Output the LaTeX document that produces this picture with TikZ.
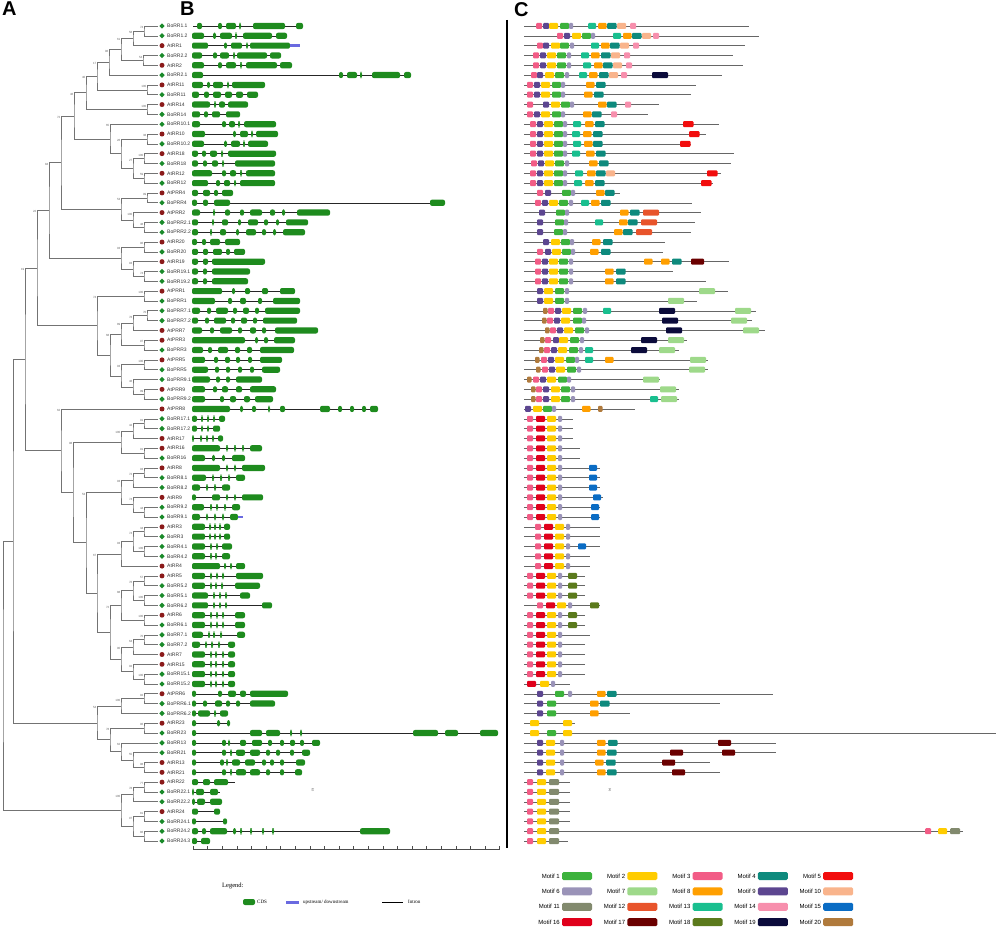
\documentclass[tikz,border=0pt]{standalone}
\usepackage{fontspec}
\setmainfont{Liberation Sans}
\newfontfamily\legendfont{Liberation Serif}
\usetikzlibrary{calc,shapes.geometric}

\definecolor{atred}{HTML}{8B1A1A}
\definecolor{bogreen}{HTML}{1A8A2A}
\definecolor{cdsgreen}{HTML}{1E8B1E}
\definecolor{utrblue}{HTML}{6A6AE0}
\definecolor{m1}{HTML}{3CB23C}
\definecolor{m2}{HTML}{FFCC00}
\definecolor{m3}{HTML}{F25C86}
\definecolor{m4}{HTML}{0E8A7D}
\definecolor{m5}{HTML}{F20D0D}
\definecolor{m6}{HTML}{9A93B8}
\definecolor{m7}{HTML}{9ED98A}
\definecolor{m8}{HTML}{FF9F00}
\definecolor{m9}{HTML}{5C4690}
\definecolor{m10}{HTML}{F9B48C}
\definecolor{m11}{HTML}{828A6E}
\definecolor{m12}{HTML}{E8542B}
\definecolor{m13}{HTML}{19BF8F}
\definecolor{m14}{HTML}{F78FAD}
\definecolor{m15}{HTML}{0A6CC4}
\definecolor{m16}{HTML}{E0001B}
\definecolor{m17}{HTML}{6B0000}
\definecolor{m18}{HTML}{5B7A1C}
\definecolor{m19}{HTML}{0B0B3B}
\definecolor{m20}{HTML}{B07A3C}

% y of a row
\newcommand{\ry}[1]{{26+(#1-1)*9.82}}
% inner node: name, x, upper child, lower child, bootstrap
\newcommand{\clade}[5]{%
  \coordinate (tmp) at ($(#3)!0.5!(#4)$);
  \coordinate (#1) at (perpendicular cs: horizontal line through={(tmp)}, vertical line through={(#2,0)});
  \draw[branch] (#3) -| (#1) |- (#4);
  \node[boot] (b#1) at (#1 |- #3) {#5};
}

\begin{document}
\begin{tikzpicture}[x=1pt,y=-1pt,
   branch/.style={draw=black!55, line width=0.6pt},
   boot/.style={font=\fontsize{3}{3}\selectfont, text=black!60, inner sep=0.4pt, anchor=north east},
   genelabel/.style={font=\fontsize{5}{6}\selectfont, text=black!80, anchor=west, inner sep=0pt},
   marka/.style={circle, fill=atred, minimum size=5pt, inner sep=0pt},
   markb/.style={diamond, fill=bogreen, minimum size=5.5pt, inner sep=0pt},
   intron/.style={draw=black!85, line width=0.5pt},
   exon/.style={fill=cdsgreen, rounded corners=2pt},
   mline/.style={draw=black!60, line width=0.5pt},
   motif/.style={rounded corners=1pt},
   panel/.style={font=\fontsize{20}{20}\selectfont\bfseries, anchor=north west, inner sep=0pt}]

\useasboundingbox (0,0) rectangle (996,928);

\node[panel] (pa) at (2,2) {A};
\node[panel] (pb) at (180,2) {B};
\node[panel] (pc) at (514,2) {C};

% tips
\foreach \r/\g/\sp in {1/BoRR1.1/b,2/BoRR1.2/b,3/AtRR1/a,4/BoRR2.2/b,5/AtRR2/a,6/BoRR2.1/b,7/AtRR11/a,8/BoRR11/b,9/AtRR14/a,10/BoRR14/b,
  11/BoRR10.1/b,12/AtRR10/a,13/BoRR10.2/b,14/AtRR18/a,15/BoRR18/b,16/AtRR12/a,17/BoRR12/b,18/AtPRR4/a,19/BoPRR4/b,20/AtPRR2/a,
  21/BoPRR2.1/b,22/BoPRR2.2/b,23/AtRR20/a,24/BoRR20/b,25/AtRR19/a,26/BoRR19.1/b,27/BoRR19.2/b,28/AtPRR1/a,29/BoPRR1/b,30/BoPRR7.1/b,
  31/BoPRR7.2/b,32/AtPRR7/a,33/AtPRR3/a,34/BoPRR3/b,35/AtPRR5/a,36/BoPRR5/b,37/BoPRR9.1/b,38/AtPRR9/a,39/BoPRR9.2/b,40/AtPRR8/a,
  41/BoRR17.1/b,42/BoRR17.2/b,43/AtRR17/a,44/AtRR16/a,45/BoRR16/b,46/AtRR8/a,47/BoRR8.1/b,48/BoRR8.2/b,49/AtRR9/a,50/BoRR9.2/b,
  51/BoRR9.1/b,52/AtRR3/a,53/BoRR3/b,54/BoRR4.1/b,55/BoRR4.2/b,56/AtRR4/a,57/AtRR5/a,58/BoRR5.2/b,59/BoRR5.1/b,60/BoRR6.2/b,
  61/AtRR6/a,62/BoRR6.1/b,63/BoRR7.1/b,64/BoRR7.2/b,65/AtRR7/a,66/AtRR15/a,67/BoRR15.1/b,68/BoRR15.2/b,69/AtPRR6/a,70/BoPRR6.1/b,
  71/BoPRR6.2/b,72/AtRR23/a,73/BoRR23/b,74/BoRR13/b,75/BoRR21/b,76/AtRR13/a,77/AtRR21/a,78/AtRR22/a,79/BoRR22.1/b,80/BoRR22.2/b,
  81/AtRR24/a,82/BoRR24.1/b,83/BoRR24.2/b,84/BoRR24.3/b}{
  \coordinate (t\r) at (158,\ry{\r});
  \node[mark\sp] (s\r) at (162,\ry{\r}) {};
  \node[genelabel] (g\r) at (167,\ry{\r}) {\g};
}

% tree
\clade{n1}{144}{t1}{t2}{74}
\clade{n2}{133}{n1}{t3}{58}
\clade{n3}{143}{t4}{t5}{54}
\clade{n4}{121}{n2}{n3}{61}
\clade{n5}{109}{n4}{t6}{96}
\clade{n6}{147}{t7}{t8}{100}
\clade{n7}{97}{n5}{n6}{17}
\clade{n8}{147}{t9}{t10}{100}
\clade{n9}{86}{n7}{n8}{40}
\clade{n10}{147}{t12}{t13}{38}
\clade{n11}{144}{t14}{t15}{100}
\clade{n12}{144}{t16}{t17}{59}
\clade{n13}{133}{n11}{n12}{27}
\clade{n14}{121}{n10}{n13}{26}
\clade{n15}{110}{t11}{n14}{65}
\clade{n16}{74}{n9}{n15}{46}
\clade{n17}{147}{t18}{t19}{99}
\clade{n18}{144}{t21}{t22}{48}
\clade{n19}{133}{t20}{n18}{100}
\clade{n20}{121}{n17}{n19}{53}
\clade{n21}{61}{n16}{n20}{72}
\clade{n22}{144}{t23}{t24}{96}
\clade{n23}{144}{t26}{t27}{74}
\clade{n24}{133}{t25}{n23}{93}
\clade{n25}{121}{n22}{n24}{93}
\clade{n26}{49}{n21}{n25}{84}
\clade{n27}{144}{t28}{t29}{100}
\clade{n28}{147}{t30}{t31}{70}
\clade{n29}{133}{n28}{t32}{78}
\clade{n30}{144}{t33}{t34}{97}
\clade{n31}{121}{n29}{n30}{89}
\clade{n32}{144}{t35}{t36}{100}
\clade{n33}{144}{t38}{t39}{99}
\clade{n34}{133}{t37}{n33}{46}
\clade{n35}{121}{n32}{n34}{93}
\clade{n36}{110}{n31}{n35}{68}
\clade{n37}{97}{n27}{n36}{74}
\clade{n38}{37}{n26}{n37}{22}
\clade{n39}{144}{t41}{t42}{91}
\clade{n40}{133}{n39}{t43}{42}
\clade{n41}{144}{t44}{t45}{91}
\clade{n42}{121}{n40}{n41}{100}
\clade{n43}{144}{t46}{t47}{93}
\clade{n44}{133}{n43}{t48}{72}
\clade{n45}{144}{t50}{t51}{44}
\clade{n46}{133}{t49}{n45}{74}
\clade{n47}{121}{n44}{n46}{93}
\clade{n48}{144}{t52}{t53}{34}
\clade{n49}{144}{t54}{t55}{100}
\clade{n50}{133}{n48}{n49}{74}
\clade{n51}{121}{n50}{t56}{93}
\clade{n52}{144}{t57}{t58}{57}
\clade{n53}{144}{t59}{t60}{100}
\clade{n54}{133}{n52}{n53}{76}
\clade{n55}{144}{t61}{t62}{100}
\clade{n56}{121}{n54}{n55}{88}
\clade{n57}{144}{t63}{t64}{70}
\clade{n58}{133}{n57}{t65}{64}
\clade{n59}{144}{t67}{t68}{100}
\clade{n60}{133}{t66}{n59}{92}
\clade{n61}{121}{n58}{n60}{90}
\clade{n62}{110}{n56}{n61}{72}
\clade{n63}{97}{n51}{n62}{67}
\clade{n64}{86}{n47}{n63}{53}
\clade{n65}{73}{n42}{n64}{98}
\clade{n66}{61}{t40}{n65}{62}
\clade{n67}{25}{n38}{n66}{19}
\clade{n68}{144}{t69}{t70}{92}
\clade{n69}{121}{n68}{t71}{100}
\clade{n70}{144}{t72}{t73}{96}
\clade{n71}{144}{t76}{t77}{98}
\clade{n72}{133}{t75}{n71}{55}
\clade{n73}{121}{t74}{n72}{62}
\clade{n74}{110}{n70}{n73}{78}
\clade{n75}{97}{n69}{n74}{54}
\clade{n76}{13}{n67}{n75}{}
\clade{n77}{144}{t78}{t79}{77}
\clade{n78}{133}{n77}{t80}{78}
\clade{n79}{144}{t81}{t82}{81}
\clade{n80}{144}{t83}{t84}{86}
\clade{n81}{133}{n79}{n80}{97}
\clade{n82}{121}{n78}{n81}{100}
\clade{n83}{3}{n76}{n82}{}

% gene structures
\foreach \r/\e/\ex in {
  1/303/{197/202,218/222,226/236,239/241,253/285,296/303},
  2/287/{192/204,213/216,220/232,235/237,243/272,276/287},
  3/290/{192/208,224/227,231/242,246/248,250/290},
  4/281/{192/202,213/217,220/229,233/235,237/267,270/281},
  5/292/{192/204,218/222,226/236,240/242,246/277,280/292},
  6/411/{192/203,339/343,347/357,360/362,372/400,404/411},
  7/265/{192/203,207/210,213/223,227/229,232/265},
  8/258/{192/199,204/209,213/221,225/232,236/243,247/258},
  9/248/{192/210,214/216,219/225,228/248},
  10/240/{192/200,204/208,212/220,226/240},
  11/276/{192/200,222/226,229/235,238/240,244/276},
  12/278/{192/205,233/236,240/248,251/253,256/278},
  13/268/{192/204,224/227,231/240,243/245,248/268},
  14/276/{192/198,202/206,210/217,221/223,228/276},
  15/275/{192/198,203/207,212/218,222/224,235/275},
  16/275/{192/212,222/226,230/236,240/242,246/275},
  17/275/{192/208,216/220,224/230,234/236,240/275},
  18/233/{192/198,203/210,214/218,222/233},
  19/445/{192/197,203/208,214/230,430/445},
  20/330/{192/200,213/215,225/230,240/244,250/262,270/275,282/285,297/330},
  21/308/{192/198,212/214,222/228,238/241,248/258,264/268,276/279,286/308},
  22/305/{192/198,210/212,220/226,236/239,246/256,262/266,273/276,283/305},
  23/240/{192/197,202/206,210/220,225/240},
  24/245/{192/198,203/208,213/222,226/230,234/245},
  25/265/{192/198,203/208,212/265},
  26/250/{192/198,203/207,212/250},
  27/248/{192/198,203/207,212/248},
  28/295/{192/222,232/235,245/250,262/268,280/295},
  29/300/{192/215,228/232,240/246,258/262,273/300},
  30/300/{192/200,207/211,216/228,233/237,243/249,255/259,265/300},
  31/297/{192/198,205/209,214/226,231/235,241/247,253/257,263/297},
  32/318/{192/202,210/214,220/232,238/242,250/256,262/266,275/318},
  33/295/{192/245,255/258,264/268,274/295},
  34/294/{192/203,208/212,218/228,235/240,247/252,260/294},
  35/282/{192/205,214/218,225/230,236/240,248/252,260/282},
  36/280/{192/208,215/219,226/230,238/242,250/254,262/280},
  37/262/{192/210,216/220,226/230,236/262},
  38/276/{192/205,213/217,222/228,236/242,250/276},
  39/273/{192/205,220/224,230/236,244/250,255/273},
  40/378/{192/230,240/243,252/256,268/270,280/285,320/330,338/342,350/354,362/366,370/378},
  41/225/{192/197,201/203,207/209,213/215,219/225},
  42/220/{192/197,201/203,207/209,213/220},
  43/223/{192/194,200/202,206/208,212/214,218/223},
  44/262/{192/220,226/228,234/236,242/244,250/262},
  45/245/{192/205,212/215,222/225,232/245},
  46/265/{192/220,226/228,234/236,242/265},
  47/245/{192/206,212/214,220/222,228/230,236/245},
  48/230/{192/200,206/208,214/216,222/230},
  49/263/{192/196,212/220,226/228,234/236,242/263},
  50/240/{192/204,210/212,216/218,224/226,232/240},
  51/238/{192/200,206/208,214/216,222/224,230/238},
  52/230/{192/205,209/211,214/216,219/221,224/230},
  53/230/{192/205,209/211,214/216,219/221,224/230},
  54/232/{192/205,210/212,216/218,222/232},
  55/230/{192/205,210/212,215/217,222/230},
  56/245/{192/220,224/226,230/232,236/245},
  57/263/{192/205,210/212,216/218,222/224,236/263},
  58/260/{192/205,210/212,215/217,221/223,235/260},
  59/250/{192/208,213/215,219/221,225/227,240/250},
  60/272/{192/208,213/215,219/221,225/227,262/272},
  61/245/{192/205,210/212,216/218,222/224,235/245},
  62/245/{192/205,210/212,216/218,222/224,235/245},
  63/245/{192/203,208/210,213/215,220/222,237/245},
  64/235/{192/200,205/207,211/213,218/220,228/235},
  65/235/{192/205,210/212,215/217,222/224,228/235},
  66/235/{192/205,210/212,215/217,222/224,228/235},
  67/235/{192/205,210/212,215/217,222/224,228/235},
  68/235/{192/205,210/212,215/217,222/224,228/235},
  69/288/{192/196,218/222,228/236,240/246,250/288},
  70/275/{192/196,203/207,215/222,226/230,236/240,250/275},
  71/228/{192/196,198/210,214/216,220/228},
  72/230/{192/196,217/220,227/230},
  73/498/{192/196,250/262,266/280,290/292,300/302,413/438,445/458,480/498},
  74/320/{192/196,222/226,228/230,240/246,252/262,268/272,280/284,290/295,300/304,312/320},
  75/310/{192/196,222/226,230/232,236/245,250/260,266/270,276/280,290/294,302/310},
  76/305/{192/196,220/224,226/228,232/240,245/255,262/266,270/274,280/284,296/305},
  77/302/{192/196,222/226,230/232,236/246,250/260,266/270,280/284,295/302},
  78/235/{192/198,203/210,214/228},
  79/220/{192/194,196/204,210/218},
  80/222/{192/195,197/205,210/222},
  81/220/{192/198,214/220},
  82/227/{192/196,223/227},
  83/390/{192/198,202/206,210/227,233/236,240/242,250/252,262/264,272/274,360/390},
  84/210/{192/197,201/210}}{
  \pgfmathsetmacro\yy{26+(\r-1)*9.82}
  \draw[intron] (193,\yy) -- (\e,\yy);
  \foreach \a/\b in \ex {\fill[exon] (\a,\yy-3.1) rectangle (\b,\yy+3.1);}
}
\fill[utrblue] (290,44.3) rectangle (300,46.9);
\fill[utrblue] (238,515.7) rectangle (243,518.3);

% scale
\draw[black!70, line width=0.4pt] (193,849) -- (500,849);
\foreach \k in {0,...,21} {\draw[black!70, line width=0.4pt] ({193+\k*14.6},849) -- ({193+\k*14.6},846);}
\node[font=\legendfont\fontsize{4}{4}\selectfont, inner sep=0pt] (five) at (313,790) {5'};
\node[font=\legendfont\fontsize{4}{4}\selectfont, inner sep=0pt] (three) at (610,790) {3'};

% divider
\draw[line width=2.4pt] (507,20) -- (507,848);

% motifs
\foreach \r/\e/\ms in {
  1/749/{536/3,543/9,549/2,560/1,569/6,588/13,598/8,607/4,617/10,630/14},
  2/759/{557/3,564/9,572/2,582/1,591/6,613/13,623/8,632/4,642/10,653/14},
  3/745/{537/3,543/9,551/2,560/1,570/6,591/13,601/8,610/4,620/10,633/14},
  4/733/{533/3,540/9,547/2,557/1,567/6,581/13,591/8,601/4,611/10,624/14},
  5/743/{533/3,540/9,547/2,557/1,567/6,583/13,594/8,603/4,613/10,626/14},
  6/722/{531/3,537/9,545/2,555/1,565/6,579/13,589/8,599/4,609/10,621/14,652/19},
  7/696/{527/3,534/9,541/2,552/1,561/6,586/8,596/4},
  8/691/{527/3,534/9,541/2,552/1,561/6,584/8,594/4},
  9/659/{527/3,543/9,551/2,561/1,570/6,598/8,607/4,625/14},
  10/648/{527/3,534/9,541/2,552/1,561/6,583/8,592/4,611/14},
  11/719/{530/3,537/9,544/2,554/1,563/6,573/13,585/8,595/4,683/5},
  12/706/{530/3,537/9,544/2,554/1,563/6,572/13,583/8,593/4,689/5},
  13/691/{530/3,537/9,544/2,554/1,563/6,573/13,584/8,593/4,680/5},
  14/734/{530/3,537/9,544/2,554/1,563/6,572/13,586/8,596/4},
  15/731/{531/3,538/9,545/2,555/1,565/6,589/8,599/4},
  16/721/{530/3,537/9,544/2,554/1,563/6,575/13,587/8,596/4,606/10,707/5},
  17/713/{530/3,537/9,544/2,554/1,563/6,574/13,585/8,595/4,701/5},
  18/620/{537/3,545/9,562/1,571/6,596/8,605/4},
  19/692/{535/3,542/9,549/2,559/1,569/6,581/13,591/8,601/4},
  20/701/{539/9,556/1,565/6,620/8,630/4,643/12},
  21/695/{537/9,555/1,564/6,595/13,619/8,628/4,641/12},
  22/691/{537/9,554/1,563/6,614/8,623/4,636/12},
  23/665/{543/9,551/2,561/1,570/6,592/8,603/4},
  24/663/{537/3,545/9,552/2,562/1,571/6,590/8,601/4},
  25/729/{535/3,542/9,549/2,559/1,569/6,644/8,661/8,672/4,691/17},
  26/673/{535/3,542/9,549/2,559/1,569/6,605/8,616/4},
  27/706/{535/3,542/9,549/2,559/1,569/6,605/8,616/4},
  28/728/{537/9,544/2,555/1,565/6,699/7},
  29/697/{537/9,544/2,555/1,565/6,668/7},
  30/756/{543/20,548/3,555/9,562/2,573/1,583/6,603/13,659/19,735/7},
  31/752/{542/20,547/3,554/9,561/2,573/1,582/6,662/19,731/7},
  32/765/{545/20,550/3,557/9,564/2,575/1,585/6,666/19,743/7},
  33/687/{540/20,545/3,553/9,559/2,570/1,580/6,641/19,668/7},
  34/679/{539/20,544/3,551/9,558/2,569/1,579/6,585/13,631/19,659/7},
  35/708/{535/20,541/3,548/9,555/2,566/1,575/6,585/13,605/8,690/7},
  36/708/{536/20,542/3,549/9,556/2,567/1,577/6,689/7},
  37/660/{527/20,533/3,540/9,547/2,558/1,567/6,643/7},
  38/679/{531/20,536/3,543/9,551/2,561/1,571/6,660/7},
  39/679/{531/20,536/3,543/9,551/2,561/1,571/6,650/13,661/7},
  40/635/{525/9,533/2,543/1,552/6,582/8,598/20},
  41/573/{527/3,536/16,547/2,558/6},
  42/573/{527/3,536/16,547/2,558/6},
  43/573/{527/3,536/16,547/2,558/6},
  44/580/{527/3,536/16,547/2,558/6},
  45/580/{527/3,536/16,547/2,558/6},
  46/600/{527/3,536/16,547/2,558/6,589/15},
  47/600/{527/3,536/16,547/2,558/6,589/15},
  48/600/{527/3,536/16,547/2,558/6,589/15},
  49/603/{527/3,536/16,547/2,558/6,593/15},
  50/600/{527/3,536/16,547/2,558/6,591/15},
  51/600/{527/3,536/16,547/2,558/6,591/15},
  52/600/{535/3,544/16,555/2,566/6},
  53/600/{535/3,544/16,555/2,566/6},
  54/600/{535/3,544/16,555/2,566/6,578/15},
  55/590/{535/3,544/16,555/2,566/6},
  56/590/{535/3,544/16,555/2,566/6},
  57/585/{527/3,536/16,547/2,558/6,568/18},
  58/585/{527/3,536/16,547/2,558/6,568/18},
  59/585/{527/3,536/16,547/2,558/6,568/18},
  60/600/{537/3,546/16,557/2,568/6,590/18},
  61/585/{527/3,536/16,547/2,558/6,568/18},
  62/585/{527/3,536/16,547/2,558/6,568/18},
  63/590/{527/3,536/16,547/2,558/6},
  64/585/{527/3,536/16,547/2,558/6},
  65/585/{527/3,536/16,547/2,558/6},
  66/585/{527/3,536/16,547/2,558/6},
  67/585/{527/3,536/16,547/2,558/6},
  68/570/{527/16,540/2,551/6},
  69/773/{537/9,555/1,568/6,597/8,607/4},
  70/720/{537/9,547/1,590/8,600/4},
  71/630/{537/9,547/1,590/8},
  72/575/{530/2,563/2},
  73/996/{530/2,547/1,563/2},
  74/776/{537/9,546/2,560/6,597/8,608/4,718/17},
  75/776/{537/9,546/2,560/6,597/8,607/4,670/17,722/17},
  76/710/{537/9,546/2,560/6,595/8,606/4,662/17},
  77/720/{537/9,546/2,560/6,597/8,607/4,672/17},
  78/570/{527/3,537/2,549/11},
  79/570/{527/3,537/2,549/11},
  80/570/{527/3,537/2,549/11},
  81/570/{527/3,537/2,549/11},
  82/570/{527/3,537/2,549/11},
  83/963/{527/3,537/2,549/11,925/3,938/2,950/11},
  84/568/{527/3,537/2,549/11}}{
  \pgfmathsetmacro\yy{26+(\r-1)*9.82}
  \draw[mline] (524,\yy) -- (\e,\yy);
  \foreach \p/\c in \ms {
    \pgfmathsetmacro\w{{0,9,9,6,9.5,10.5,4,16,8.5,6,9,10,16,8,6,8,9,13,9,16,4.5}[\c]}
    \fill[m\c, motif] (\p,\yy-3) rectangle ({\p+\w},\yy+3);
  }
}

% motif legend
\foreach \c in {1,...,20} {
  \pgfmathsetmacro\lx{560+mod(\c-1,5)*65.3}
  \pgfmathsetmacro\ly{876+int((\c-1)/5)*15.4}
  \node[font=\fontsize{6}{7}\selectfont, anchor=east, inner sep=0pt] (lm\c) at (\lx,\ly) {Motif \c};
  \fill[m\c, rounded corners=1.5pt] ($(lm\c.east)+(2,-4)$) rectangle ($(lm\c.east)+(32,4)$);
}

% gene structure legend
\node[font=\legendfont\fontsize{6.5}{7}\selectfont, anchor=west, inner sep=0pt] (leg) at (222,886) {Legend:};
\fill[cdsgreen, rounded corners=2pt] (243,899) rectangle (255,905);
\node[font=\legendfont\fontsize{5}{6}\selectfont, anchor=west, inner sep=0pt] (lcds) at (257,902) {CDS};
\fill[utrblue] (286,901) rectangle (299,903.5);
\node[font=\legendfont\fontsize{5}{6}\selectfont, anchor=west, inner sep=0pt] (lutr) at (303,902) {upstream/ downstream};
\draw[line width=0.8pt] (382,902) -- (403,902);
\node[font=\legendfont\fontsize{5}{6}\selectfont, anchor=west, inner sep=0pt] (lint) at (408,902) {Intron};

\end{tikzpicture}
\end{document}
